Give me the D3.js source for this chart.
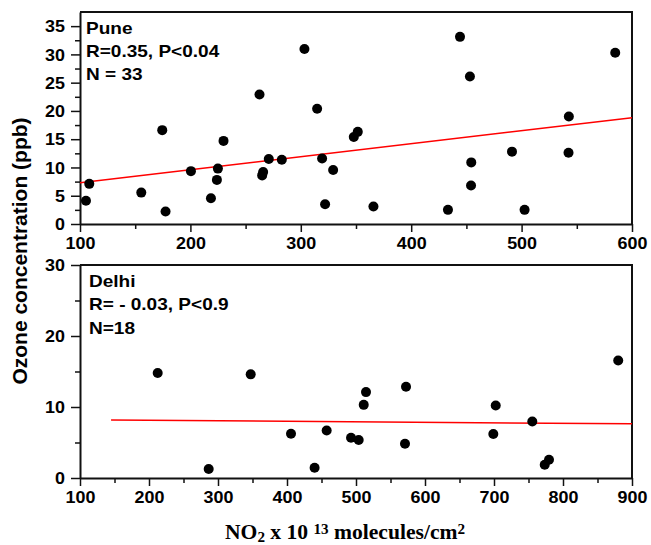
<!DOCTYPE html>
<html>
<head>
<meta charset="utf-8">
<script src="https://cdn.jsdelivr.net/npm/d3@7"></script>
<style>
  html, body { margin: 0; padding: 0; background: #fff; }
  svg { display: block; }
</style>
</head>
<body>
<svg id="chart" width="651" height="545"></svg>
<script>
// ---------------- DATA ----------------
const puneNO2 = [105.4, 108.4, 155.5, 177.5, 174.5, 200.5, 218.6, 224.0, 224.9, 230.0,
                 262.6, 265.0, 265.9, 271.0, 282.8, 303.3, 314.8, 319.3, 322.0, 329.3,
                 348.0, 351.6, 365.8, 433.3, 444.2, 453.2, 454.4, 454.2, 491.3, 502.7,
                 542.8, 542.5, 584.8];
const puneO3  = [4.1, 7.1, 5.55, 2.2, 16.6, 9.35, 4.55, 7.8, 9.8, 14.7,
                 22.9, 8.6, 9.2, 11.5, 11.35, 30.95, 20.4, 11.6, 3.5, 9.55,
                 15.4, 16.3, 3.1, 2.5, 33.1, 26.1, 10.9, 6.8, 12.8, 2.5,
                 19.0, 12.6, 30.3];
const puneFitX = [100, 600];
const puneFitY = [7.3, 18.8];
const puneXTicks = [100, 200, 300, 400, 500, 600];
const puneYTicks = [0, 5, 10, 15, 20, 25, 30, 35];
const puneLabels = ["Pune", "R=0.35, P<0.04", "N = 33"];

const delhiNO2 = [212.6, 286.5, 347.4, 405.8, 440.0, 457.5, 492.8, 503.9, 511.2, 514.5,
                  572.5, 571.0, 699.0, 702.5, 755.5, 773.5, 779.7, 880.0];
const delhiO3  = [14.8, 1.27, 14.6, 6.24, 1.45, 6.7, 5.68, 5.35, 10.3, 12.1,
                  12.86, 4.83, 6.2, 10.2, 7.97, 1.87, 2.58, 16.56];
const delhiFitX = [145, 900];
const delhiFitY = [8.16, 7.64];
const delhiXTicks = [100, 200, 300, 400, 500, 600, 700, 800, 900];
const delhiYTicks = [0, 10, 20, 30];
const delhiLabels = ["Delhi", "R= - 0.03, P<0.9", "N=18"];

const yTitle = "Ozone concentration (ppb)";

// ---------------- DRAW ----------------
const svg = d3.select("#chart");
const SX = 1.12;           // horizontal stretch of the original lettering
const sans = "'Liberation Sans', Arial, Helvetica, sans-serif";

function panel(cfg) {
  const x = d3.scaleLinear().domain(cfg.xDomain).range([cfg.left, cfg.right]);
  const y = d3.scaleLinear().domain(cfg.yDomain).range([cfg.bottom, cfg.top]);
  const g = svg.append("g");

  // frame (top & right)
  g.append("path")
    .attr("d", `M${cfg.left},${cfg.top}H${cfg.right}V${cfg.bottom}`)
    .attr("fill", "none").attr("stroke", "#111").attr("stroke-width", 2);

  // minor ticks
  const xMinor = cfg.xTicks.slice(0, -1).map((t, i) => (t + cfg.xTicks[i + 1]) / 2);
  const yMinor = cfg.yTicks.slice(0, -1).map((t, i) => (t + cfg.yTicks[i + 1]) / 2);
  g.append("g").attr("transform", `translate(0,${cfg.bottom})`)
    .call(d3.axisBottom(x).tickValues(xMinor).tickSize(5).tickFormat(""))
    .call(a => a.select(".domain").remove())
    .call(a => a.selectAll("line").attr("stroke", "#111").attr("stroke-width", 1.5));
  g.append("g").attr("transform", `translate(${cfg.left},0)`)
    .call(d3.axisLeft(y).tickValues(yMinor).tickSize(5).tickFormat(""))
    .call(a => a.select(".domain").remove())
    .call(a => a.selectAll("line").attr("stroke", "#111").attr("stroke-width", 1.5));

  // major axes
  const xa = g.append("g").attr("transform", `translate(0,${cfg.bottom})`)
    .call(d3.axisBottom(x).tickValues(cfg.xTicks).tickSize(8).tickSizeOuter(0).tickPadding(6).tickFormat(d3.format("d")));
  const ya = g.append("g").attr("transform", `translate(${cfg.left},0)`)
    .call(d3.axisLeft(y).tickValues(cfg.yTicks).tickSize(9).tickSizeOuter(0).tickFormat(d3.format("d")));
  [xa, ya].forEach(a => {
    a.select(".domain").attr("stroke", "#111").attr("stroke-width", 2);
    a.selectAll("line").attr("stroke", "#111").attr("stroke-width", 1.5);
    a.selectAll("text").attr("fill", "#000")
      .style("font-family", sans).style("font-weight", "bold").style("font-size", "16px");
  });
  xa.selectAll("text").attr("transform", `scale(${SX},1)`);
  ya.selectAll("text").attr("x", 0).attr("dy", "0.36em")
    .attr("transform", `translate(-15,0) scale(${SX},1)`);

  // fit line
  g.append("line")
    .attr("x1", x(cfg.fitX[0])).attr("y1", y(cfg.fitY[0]))
    .attr("x2", x(cfg.fitX[1])).attr("y2", y(cfg.fitY[1]))
    .attr("stroke", "#ff0000").attr("stroke-width", 1.5);

  // points
  g.append("g").selectAll("circle")
    .data(cfg.xs.map((v, i) => [v, cfg.ys[i]]))
    .join("circle")
    .attr("cx", d => x(d[0])).attr("cy", d => y(d[1]))
    .attr("r", 5).attr("fill", "#000");

  // annotation
  cfg.labels.forEach((t, i) => {
    g.append("text")
      .attr("transform", `translate(${cfg.labelX},${cfg.labelY + i * cfg.labelDy}) scale(${SX},1)`)
      .style("font-family", sans).style("font-weight", "bold").style("font-size", "17px")
      .attr("fill", "#000")
      .text(t);
  });
}

panel({
  xs: puneNO2, ys: puneO3, fitX: puneFitX, fitY: puneFitY,
  xTicks: puneXTicks, yTicks: puneYTicks, labels: puneLabels,
  xDomain: [100, 600], yDomain: [0, 37.5],
  left: 80, right: 632, top: 12, bottom: 224,
  labelX: 86, labelY: 33.5, labelDy: 23.3
});

panel({
  xs: delhiNO2, ys: delhiO3, fitX: delhiFitX, fitY: delhiFitY,
  xTicks: delhiXTicks, yTicks: delhiYTicks, labels: delhiLabels,
  xDomain: [100, 900], yDomain: [0, 30],
  left: 80, right: 632, top: 265, bottom: 478,
  labelX: 89, labelY: 286.5, labelDy: 23.5
});

// y title
svg.append("text")
  .attr("transform", "translate(27,251) rotate(-90)")
  .attr("text-anchor", "middle")
  .style("font-family", sans).style("font-weight", "bold").style("font-size", "21px")
  .attr("fill", "#000")
  .text(yTitle);

// x title
const xt = svg.append("text")
  .attr("transform", `translate(225,539) scale(1.08,1)`)
  .style("font-family", "'Liberation Serif', 'Times New Roman', Times, serif")
  .style("font-weight", "bold").style("font-size", "20px")
  .attr("fill", "#000");
xt.append("tspan").text("NO");
xt.append("tspan").attr("dy", 3).style("font-size", "14px").text("2");
xt.append("tspan").attr("dy", -3).text(" x 10 ");
xt.append("tspan").attr("dy", -5).style("font-size", "14px").text("13");
xt.append("tspan").attr("dy", 5).text(" molecules/cm");
xt.append("tspan").attr("dy", -5).style("font-size", "14px").text("2");
</script>
</body>
</html>
